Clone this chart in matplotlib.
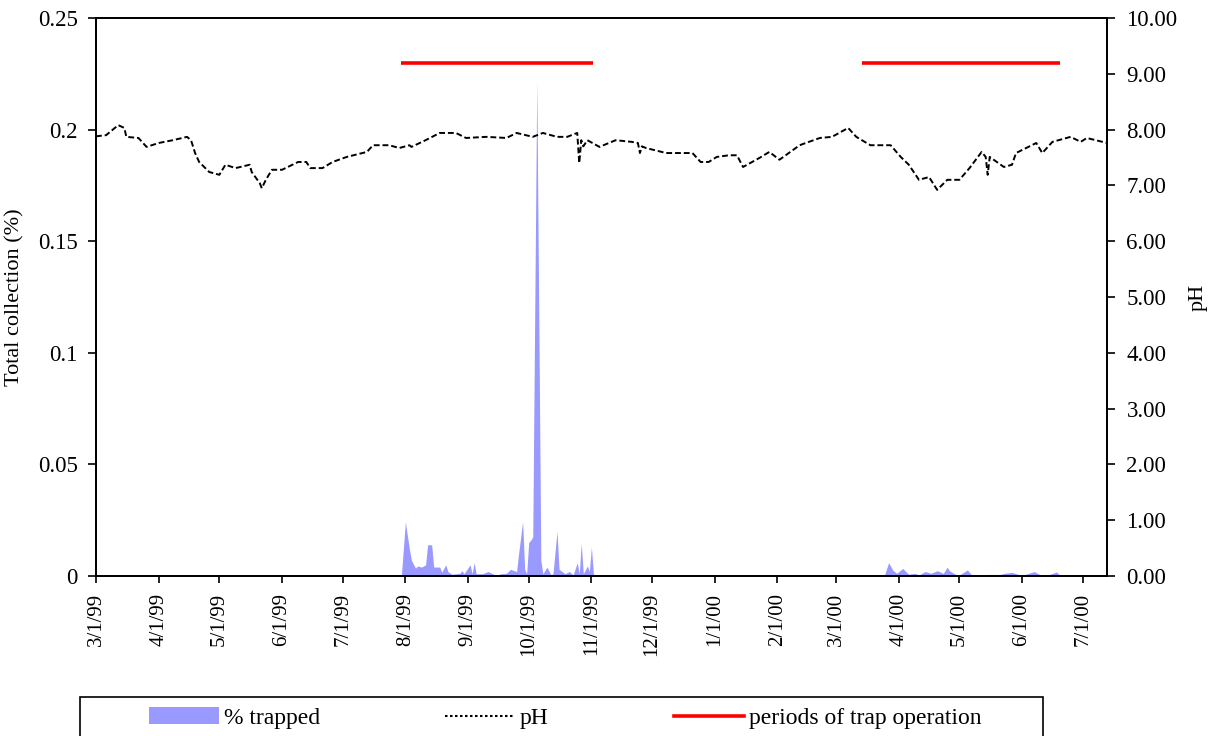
import numpy as np
import pandas as pd
import matplotlib
matplotlib.use("Agg")
import matplotlib.pyplot as plt
from matplotlib.patches import Patch, Rectangle
from matplotlib.lines import Line2D

plt.rcParams['font.family'] = ['Liberation Serif', 'DejaVu Serif']

START = pd.Timestamp('1999-03-01')
END = pd.Timestamp('2000-07-13')

# pH (right axis), days since 1999-03-01
ph_day = [0, 5, 11, 14, 15, 21, 25, 31, 38, 45, 47, 49, 51, 56, 61, 64, 69, 76, 77, 81,
          82, 84, 87, 92, 100, 104, 106, 112, 117, 124, 134, 137, 145, 150, 155, 156, 163,
          170, 178, 183, 193, 203, 208, 216, 221, 228, 233, 238, 239, 240, 241, 243, 249,
          257, 265, 268, 269, 270, 272, 282, 295, 299, 303, 307, 313, 317, 320, 328, 333,
          338, 348, 351, 358, 364, 372, 376, 383, 393, 398, 402, 407, 412, 416, 421, 427,
          432, 438, 440, 441, 442, 449, 453, 455, 465, 468, 473, 482, 487, 490, 500]
ph_val = [7.88, 7.90, 8.08, 8.03, 7.87, 7.85, 7.69, 7.76, 7.81, 7.87, 7.81, 7.58, 7.42,
          7.24, 7.19, 7.37, 7.31, 7.37, 7.24, 7.04, 6.95, 7.10, 7.28, 7.28, 7.42, 7.42,
          7.31, 7.31, 7.42, 7.51, 7.60, 7.72, 7.72, 7.67, 7.72, 7.69, 7.81, 7.94, 7.94,
          7.85, 7.87, 7.85, 7.94, 7.87, 7.94, 7.87, 7.87, 7.94, 7.40, 7.81, 7.70, 7.81,
          7.69, 7.81, 7.78, 7.76, 7.58, 7.70, 7.67, 7.58, 7.58, 7.42, 7.42, 7.51, 7.54,
          7.54, 7.33, 7.49, 7.60, 7.46, 7.72, 7.76, 7.85, 7.87, 8.03, 7.87, 7.72, 7.72,
          7.51, 7.37, 7.10, 7.15, 6.92, 7.10, 7.10, 7.31, 7.60, 7.51, 7.19, 7.51, 7.33,
          7.37, 7.58, 7.76, 7.58, 7.78, 7.87, 7.78, 7.85, 7.76]

# % trapped (left axis), days since 1999-03-01
trap_day = [0, 151, 153, 155, 156, 158, 159, 161, 163, 164, 166, 167, 170, 171, 173, 174,
            176, 180, 181, 182, 185, 186, 187, 188, 191, 194, 197, 198, 200, 203, 205, 208,
            209, 211, 212, 213, 214, 215, 216, 218, 220, 221, 223, 225, 226, 228, 229, 232,
            234, 236, 238, 239, 240, 241, 243, 244, 245, 246, 247,
            384, 385, 387, 388, 390, 392, 394, 396, 399, 401, 402, 405, 407, 410, 413, 416,
            419, 421, 422, 425, 427, 431, 433, 436, 441, 447, 450, 453, 457, 460, 464, 467,
            471, 475, 477, 500]
trap_val = [0, 0, 0.0242, 0.012, 0.007, 0.0035, 0.0045, 0.004, 0.005, 0.014, 0.014, 0.004,
            0.004, 0.0018, 0.005, 0.002, 0.0008, 0.0012, 0.0024, 0.001, 0.005, 0.001, 0.006,
            0.001, 0.001, 0.002, 0.0006, 0.0, 0.001, 0.0012, 0.003, 0.002, 0.010, 0.0244,
            0.003, 0.001, 0.015, 0.016, 0.0175, 0.222, 0.007, 0.001, 0.004, 0.0005, 0.001,
            0.020, 0.003, 0.001, 0.002, 0.0005, 0.006, 0.001, 0.0146, 0.001, 0.0045, 0.002,
            0.013, 0.001, 0.0,
            0.0, 0.0004, 0.0007, 0.0, 0.0005, 0.006, 0.0027, 0.0012, 0.0034, 0.0015, 0.0008,
            0.0012, 0.0005, 0.002, 0.0012, 0.0024, 0.0012, 0.004, 0.0024, 0.0008, 0.0005,
            0.0027, 0.0005, 0.0003, 0.0007, 0.0007, 0.0013, 0.0016, 0.0005, 0.0008, 0.002,
            0.0005, 0.0005, 0.0018, 0.0, 0.0]

# periods of trap operation (drawn on pH axis)
period_start = ['1999-07-30', '2000-03-14']
period_end = ['1999-11-02', '2000-06-20']
period_level = 9.2

tick_dates = pd.date_range('1999-03-01', '2000-07-01', freq='MS')
tick_labels = [f"{d.month}/{d.day}/{d.strftime('%y')}" for d in tick_dates]

left_ticks = [0, 0.05, 0.1, 0.15, 0.2, 0.25]
left_labels = ['0', '0.05', '0.1', '0.15', '0.2', '0.25']
right_ticks = [0, 1, 2, 3, 4, 5, 6, 7, 8, 9, 10]
right_labels = [f"{v:.2f}" for v in right_ticks]

fig = plt.figure(figsize=(12.16, 7.36), dpi=100)
ax = fig.add_axes([96/1216, 1-576/736, (1107-96)/1216, (576-18)/736])
ax2 = ax.twinx()

trap_dates = START + pd.to_timedelta(trap_day, unit='D')
ph_dates = START + pd.to_timedelta(ph_day, unit='D')

ax.fill_between(trap_dates, 0, trap_val, color='#9999ff', lw=0, zorder=1)
ax2.plot(ph_dates, ph_val, color='black', lw=1.4, ls=(0, (3, 1.5)), zorder=3)
for s, e in zip(period_start, period_end):
    ax2.plot([pd.Timestamp(s), pd.Timestamp(e)], [period_level, period_level],
             color='#ff0000', lw=2.6, solid_capstyle='butt')

ax.set_xlim(START, END)
ax.set_ylim(0, 0.25)
ax2.set_ylim(0, 10)
ax.set_xticks(tick_dates)
ax.set_xticklabels(tick_labels, rotation=90, fontsize=15)
ax.set_yticks(left_ticks)
ax.set_yticklabels(left_labels, fontsize=16.5)
ax2.set_yticks(right_ticks)
ax2.set_yticklabels(right_labels, fontsize=16.5)

ax.tick_params(axis='x', direction='out', length=5, width=1.2, pad=7)
ax.tick_params(axis='y', direction='out', length=6, width=1.2, pad=7)
ax2.tick_params(axis='y', direction='out', length=6, width=1.2, pad=8)
for a in (ax, ax2):
    for sp in a.spines.values():
        sp.set_linewidth(1.3)
        sp.set_color('black')

ax.set_ylabel('Total collection (%)', fontsize=16, labelpad=10)
ax2.set_ylabel('pH', fontsize=16, labelpad=8)

# legend
LFS = 17
handles = [Patch(facecolor='#9999ff', edgecolor='none'),
           Line2D([], [], color='black', lw=1.5, ls=(0, (1.2, 1.2))),
           Line2D([], [], color='#ff0000', lw=2.6)]
labels = ['% trapped', 'pH', 'periods of trap operation']
fig.legend(handles, labels, ncol=3, frameon=False, loc='center',
           bbox_to_anchor=(565/1216, 1-718/736), fontsize=LFS,
           handlelength=2.97, handleheight=0.76, handletextpad=0.2,
           columnspacing=5.3, borderpad=0)
fig.patches.append(Rectangle((80/1216, -0.01), (1043-80)/1216, 0.01 + 1-697/736,
                             transform=fig.transFigure, fill=False,
                             edgecolor='black', lw=1.2))

fig.savefig('out.png', dpi=100)
